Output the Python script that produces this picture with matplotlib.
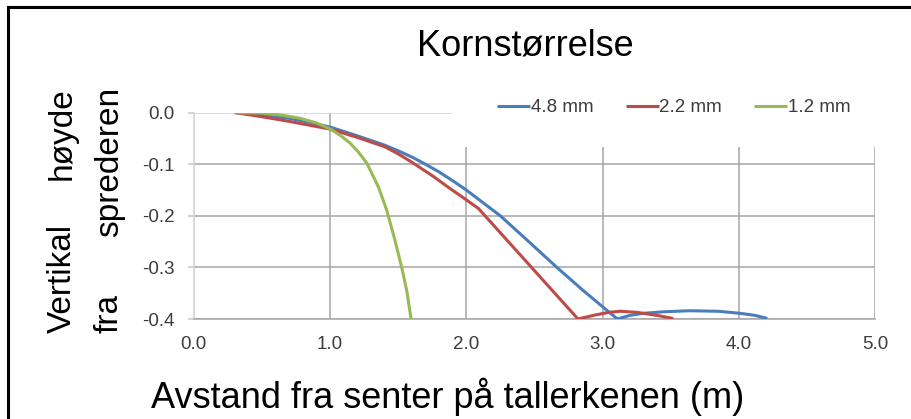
import matplotlib
matplotlib.use("Agg")
import matplotlib.pyplot as plt
from matplotlib.patches import Rectangle

plt.rcParams['font.family'] = ['Liberation Sans', 'DejaVu Sans']

# ---- data ----
x_48 = [0.3, 0.5, 0.7, 0.9, 1.0, 1.2, 1.4, 1.5, 1.6, 1.7, 1.8, 1.9, 2.0, 2.1, 2.25,
        2.45, 2.665, 2.85, 3.04, 3.11, 3.2, 3.3, 3.45, 3.64, 3.85, 4.01, 4.12, 4.21]
y_48 = [0.0, -0.004, -0.011, -0.022, -0.028, -0.045, -0.063, -0.074, -0.086, -0.100,
        -0.115, -0.132, -0.150, -0.170, -0.200, -0.248, -0.300, -0.343, -0.385, -0.400,
        -0.393, -0.389, -0.386, -0.384, -0.385, -0.389, -0.393, -0.399]

x_22 = [0.3, 0.5, 0.7, 0.9, 1.0, 1.2, 1.4, 1.5, 1.6, 1.76, 1.88, 2.0, 2.09, 2.82,
        2.95, 3.05, 3.13, 3.25, 3.4, 3.52]
y_22 = [0.0, -0.008, -0.017, -0.027, -0.032, -0.048, -0.066, -0.080, -0.096, -0.124,
        -0.147, -0.169, -0.186, -0.400, -0.392, -0.387, -0.385, -0.387, -0.393, -0.399]

x_12 = [0.3, 0.5, 0.65, 0.78, 0.9, 1.01, 1.08, 1.147, 1.21, 1.27, 1.355, 1.416,
        1.477, 1.526, 1.563, 1.595]
y_12 = [0.0, -0.001, -0.005, -0.011, -0.020, -0.033, -0.045, -0.059, -0.077, -0.098,
        -0.144, -0.189, -0.248, -0.300, -0.345, -0.400]

series_labels = ['4.8 mm', '2.2 mm', '1.2 mm']
series_colors = ['#4a7ebb', '#be4b48', '#98b954']
x_ticks = [0.0, 1.0, 2.0, 3.0, 4.0, 5.0]
y_ticks = [0.0, -0.1, -0.2, -0.3, -0.4]
title = 'Kornstørrelse'
xlabel = 'Avstand fra senter på tallerkenen (m)'

W, H = 912, 419
fig = plt.figure(figsize=(W / 100, H / 100), dpi=100)
ax = fig.add_axes([193.8 / W, 1 - 319 / H, (875 - 193.8) / W, (319 - 112.6) / H])

ax.set_axisbelow(True)
for xs, ys, lab, col in zip([x_48, x_22, x_12], [y_48, y_22, y_12], series_labels, series_colors):
    ax.plot(xs, ys, color=col, lw=2.2, label=lab, solid_capstyle='butt',
            solid_joinstyle='round', zorder=3)

ax.set_xlim(0, 5)
ax.set_ylim(-0.4, 0.0)
ax.set_xticks(x_ticks)
ax.set_xticklabels([f'{v:.1f}' for v in x_ticks])
ax.set_yticks(y_ticks)
ax.set_yticklabels([f'{v:.1f}' for v in y_ticks])

gridc = '#a6a6a6'
ax.grid(True, color=gridc, lw=1.1)
ax.xaxis.get_gridlines()[0].set_color('#d4d4d4')
ax.yaxis.get_gridlines()[0].set_color('#d4d4d4')

for s in ['top', 'right']:
    ax.spines[s].set_visible(False)
ax.spines['left'].set_color('#d4d4d4')
ax.spines['left'].set_linewidth(1.1)
ax.spines['bottom'].set_color(gridc)
ax.spines['bottom'].set_linewidth(1.1)

tick_col = '#3c3c3c'
ax.tick_params(axis='y', length=4, width=1.1, color='#c8c8c8', pad=10,
               labelsize=13.5, labelcolor=tick_col)
ax.tick_params(axis='x', length=0, pad=12, labelsize=13.5, labelcolor=tick_col)

# white legend area covering the grid
ax.add_patch(Rectangle((0.379, 0.835), 0.65, 0.4, transform=ax.transAxes,
                       facecolor='white', edgecolor='none', zorder=1, clip_on=False))

leg = fig.legend(loc='center', bbox_to_anchor=(674 / W, 1 - 107.5 / H),
                 bbox_transform=fig.transFigure, ncol=3, frameon=False,
                 fontsize=13.5, handlelength=1.75, handletextpad=0.05,
                 columnspacing=1.7, borderpad=0)
for t in leg.get_texts():
    t.set_color(tick_col)

fig.text(525 / W, 1 - 55 / H, title, ha='center', va='baseline', fontsize=26)
fig.text(447.5 / W, 1 - 408 / H, xlabel, ha='center', va='baseline', fontsize=26)

# justified two-line y label
yl = dict(rotation=90, rotation_mode='anchor', va='baseline', fontsize=24)
fig.text(71 / W, 1 - 333 / H, 'Vertikal', ha='left', **yl)
fig.text(71 / W, 1 - 87 / H, 'høyde', ha='right', **yl)
fig.text(118 / W, 1 - 333 / H, 'fra', ha='left', **yl)
fig.text(118 / W, 1 - 87 / H, 'sprederen', ha='right', **yl)

# outer black frame (cropped at right and bottom)
top = 1 - 6.5 / H
fig.add_artist(Rectangle((8.5 / W, -0.2), 1.2, top + 0.2, transform=fig.transFigure,
                         facecolor='none', edgecolor='black', lw=2.2))

fig.savefig('out.png', dpi=100)
